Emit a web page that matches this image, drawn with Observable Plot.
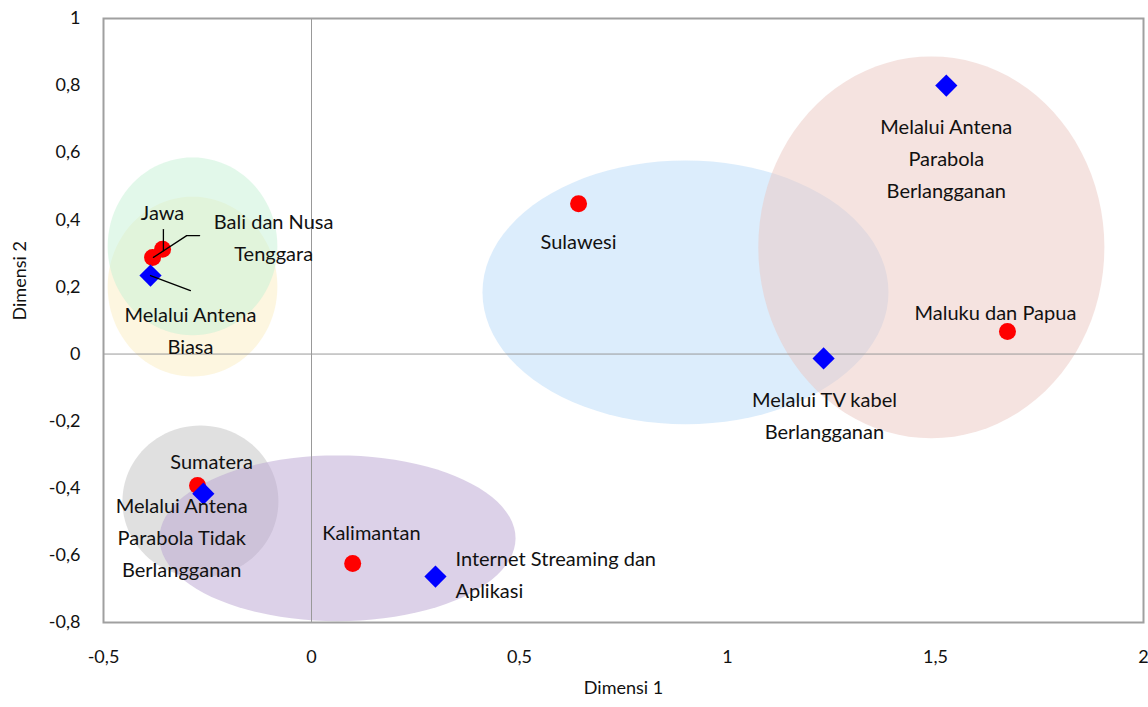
<!DOCTYPE html>
<html>
<head>
<meta charset="utf-8">
<script src="https://cdn.jsdelivr.net/npm/d3@7"></script>
<script src="https://cdn.jsdelivr.net/npm/@observablehq/plot@0.6"></script>
<style>
  html, body { margin: 0; padding: 0; background: #fff; }
</style>
</head>
<body>
<div id="chart"></div>
<script>
// Regions (red circles)
const regionNames = ["Jawa", "Bali dan Nusa Tenggara", "Sulawesi", "Maluku dan Papua", "Sumatera", "Kalimantan"];
const regionX = [-0.382, -0.358, 0.642, 1.673, -0.274, 0.099];
const regionY = [0.288, 0.312, 0.448, 0.067, -0.392, -0.624];

// Reception methods (blue diamonds)
const methodNames = ["Melalui Antena Biasa", "Melalui Antena Parabola Berlangganan", "Melalui TV kabel Berlangganan", "Melalui Antena Parabola Tidak Berlangganan", "Internet Streaming dan Aplikasi"];
const methodX = [-0.387, 1.526, 1.231, -0.260, 0.298];
const methodY = [0.234, 0.800, -0.013, -0.416, -0.663];

// Labels (text, anchor position in data units, alignment)
const labelText = ["Jawa", "Bali dan Nusa\nTenggara", "Sulawesi", "Maluku dan Papua", "Sumatera", "Kalimantan",
  "Melalui Antena\nBiasa", "Melalui Antena\nParabola\nBerlangganan", "Melalui TV kabel\nBerlangganan",
  "Melalui Antena\nParabola Tidak\nBerlangganan", "Internet Streaming dan\nAplikasi"];
const labelX = [-0.358, -0.091, 0.642, 1.644, -0.240, 0.144, -0.291, 1.526, 1.233, -0.312, 0.346];
const labelY = [0.420, 0.348, 0.335, 0.124, -0.320, -0.532, 0.070, 0.582, -0.183, -0.546, -0.657];
const labelAnchor = ["middle", "middle", "middle", "middle", "middle", "middle", "middle", "middle", "middle", "middle", "start"];

// Leader lines (polylines in data units)
const leaderId = [0, 0, 1, 1, 1, 2, 2];
const leaderX = [-0.356, -0.356, -0.269, -0.300, -0.380, -0.387, -0.291];
const leaderY = [0.371, 0.308, 0.353, 0.353, 0.288, 0.234, 0.189];

// Cluster ellipses (centre and radii in data units)
const ellName = ["yellow", "green", "gray", "purple", "blue", "pink"];
const ellCx = [-0.286, -0.286, -0.267, 0.0625, 0.899, 1.490];
const ellCy = [0.201, 0.321, -0.439, -0.549, 0.184, 0.318];
const ellRx = [0.204, 0.204, 0.1875, 0.428, 0.488, 0.416];
const ellRy = [0.268, 0.265, 0.226, 0.247, 0.393, 0.569];
const ellFill = ["#fbedc1", "#c5f1d5", "#c1c1c1", "#b9a3d1", "#b9dbf9", "#ebc7c1"];

// Axis ticks
const xTicks = [-0.5, 0, 0.5, 1, 1.5, 2];
const yTicks = [-0.8, -0.6, -0.4, -0.2, 0, 0.2, 0.4, 0.6, 0.8, 1];

const fmt = d => String(d).replace(".", ",");

const regions = regionNames.map((n, i) => ({name: n, x: regionX[i], y: regionY[i]}));
const methods = methodNames.map((n, i) => ({name: n, x: methodX[i], y: methodY[i]}));
const labels = labelText.map((t, i) => ({t, x: labelX[i], y: labelY[i], a: labelAnchor[i]}));
const leaders = leaderId.map((id, i) => ({id, x: leaderX[i], y: leaderY[i]}));

// outline points for each ellipse (geometry only)
const ellipseMarks = ellName.map((n, k) => {
  const pts = d3.range(0, 96).map(j => {
    const t = j / 96 * 2 * Math.PI;
    return {x: ellCx[k] + ellRx[k] * Math.cos(t), y: ellCy[k] + ellRy[k] * Math.sin(t)};
  });
  return Plot.line(pts, {x: "x", y: "y", curve: "linear-closed", fill: ellFill[k], fillOpacity: 0.5, stroke: "none"});
});

const textFont = "Lato, 'Noto Sans', sans-serif";

const chart = Plot.plot({
  width: 1148,
  height: 707,
  marginLeft: 103,
  marginRight: 5,
  marginTop: 18,
  marginBottom: 85,
  style: {fontFamily: textFont, fontSize: "18px", color: "#111", background: "#fff"},
  x: {domain: [-0.5, 2], ticks: xTicks, tickFormat: fmt, tickSize: 0, tickPadding: 28, label: null},
  y: {domain: [-0.8, 1], ticks: yTicks, tickFormat: fmt, tickSize: 0, tickPadding: 23, label: null},
  marks: [
    ...ellipseMarks,
    Plot.ruleX([0], {stroke: "#999", strokeWidth: 1}),
    Plot.ruleY([0], {stroke: "#999", strokeWidth: 1}),
    Plot.frame({stroke: "#a0a0a0", strokeWidth: 2}),
    Plot.dot(regions, {x: "x", y: "y", r: 8.5, fill: "#ff0000", stroke: "none"}),
    Plot.dot(methods, {x: "x", y: "y", r: 10, symbol: "diamond2", fill: "#0000ff", stroke: "none"}),
    Plot.line(leaders, {x: "x", y: "y", z: "id", stroke: "#000", strokeWidth: 1.3}),
    Plot.text(labels.filter(d => d.a === "middle"), {x: "x", y: "y", text: "t", textAnchor: "middle", lineHeight: 1.6, fontSize: 20, dy: -3, fill: "#111"}),
    Plot.text(labels.filter(d => d.a === "start"), {x: "x", y: "y", text: "t", textAnchor: "start", lineHeight: 1.6, fontSize: 20, dy: -3, fill: "#111"}),
    Plot.text(["Dimensi 1"], {frameAnchor: "bottom", dy: 71, fontSize: 18, fill: "#111"}),
    Plot.text(["Dimensi 2"], {frameAnchor: "left", dx: -83, rotate: -90, fontSize: 18, fill: "#111"})
  ]
});

document.getElementById("chart").appendChild(chart);
</script>
</body>
</html>
